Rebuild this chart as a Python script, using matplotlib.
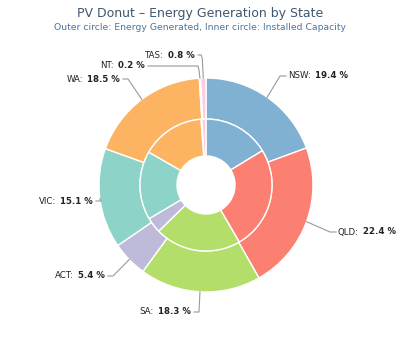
import numpy as np
import matplotlib
matplotlib.use("Agg")
import matplotlib.pyplot as plt

# data (clockwise from top)
states = ["NSW", "QLD", "SA", "ACT", "VIC", "WA", "NT", "TAS"]
energy = [19.4, 22.4, 18.3, 5.4, 15.1, 18.5, 0.2, 0.8]      # outer ring, %
capacity = [16.3, 25.3, 21.1, 3.8, 16.8, 15.5, 0.2, 1.0]   # inner ring, %
colors = ["#80b1d3", "#fb8072", "#b3de69", "#bebada",
          "#8dd3c7", "#fdb462", "#ffffb3", "#fccde5"]

W, H = 400, 338
fig = plt.figure(figsize=(4, 3.38), dpi=100)
ax = fig.add_axes([0, 0, 1, 1])
ax.set_xlim(0, W)
ax.set_ylim(0, H)
ax.set_aspect("equal")
ax.axis("off")

cx, cy = 206, H - 185
R_out, R_mid, R_in = 107, 66, 29

ax.pie(energy, colors=colors, radius=R_out, center=(cx, cy), startangle=90,
       counterclock=False, normalize=True,
       wedgeprops=dict(width=R_out - R_mid, edgecolor="white", linewidth=1.0))
ax.pie(capacity, colors=colors, radius=R_mid, center=(cx, cy), startangle=90,
       counterclock=False, normalize=True,
       wedgeprops=dict(width=R_mid - R_in, edgecolor="white", linewidth=1.0))
ax.set_xlim(0, W)
ax.set_ylim(0, H)

fig.text(0.5, 1 - 14 / H, "PV Donut \u2013 Energy Generation by State",
         ha="center", va="center", fontsize=9, color="#3e576f")
fig.text(0.5, 1 - 27 / H,
         "Outer circle: Energy Generated, Inner circle: Installed Capacity",
         ha="center", va="center", fontsize=6.7, color="#4d759e")

# label layout: (x, y in pixels from top, side)
label_pos = {
    "NSW": (288, 76, "r"),
    "QLD": (338, 232, "r"),
    "SA": (191, 312, "l"),
    "ACT": (105, 276, "l"),
    "VIC": (93, 201, "l"),
    "WA": (120, 79, "l"),
    "NT": (145, 66, "l"),
    "TAS": (195, 55, "l"),
}

tot = sum(energy)
cum = np.cumsum([0] + energy[:-1])
for i, s in enumerate(states):
    mid = (cum[i] + energy[i] / 2) / tot * 2 * np.pi
    px = cx + R_out * np.sin(mid)
    py = cy + R_out * np.cos(mid)
    lx, ly, side = label_pos[s]
    ly = H - ly
    val = f"{energy[i]:.1f} %"
    if side == "r":
        name = ax.text(lx, ly, f"{s}:", ha="left", va="center",
                       fontsize=6.2, color="#222222")
        ax.annotate(val, xy=(1, 0.5), xycoords=name, xytext=(3, 0),
                    textcoords="offset points", ha="left", va="center",
                    fontsize=6.2, weight="bold", color="#222222")
        ax.plot([lx - 2, lx - 8, px], [ly, ly, py], color="#999999", lw=0.8)
    else:
        v = ax.text(lx, ly, val, ha="right", va="center",
                    fontsize=6.2, weight="bold", color="#222222")
        ax.annotate(f"{s}:", xy=(0, 0.5), xycoords=v, xytext=(-3, 0),
                    textcoords="offset points", ha="right", va="center",
                    fontsize=6.2, color="#222222")
        if s in ("NT", "TAS"):
            ax.plot([lx + 3, px - 2, px - 1, px], [ly, ly, ly - 4, py],
                    color="#999999", lw=0.8)
        else:
            ax.plot([lx + 3, lx + 8, px], [ly, ly, py], color="#999999", lw=0.8)

fig.savefig("out.png", dpi=100, facecolor="white")
